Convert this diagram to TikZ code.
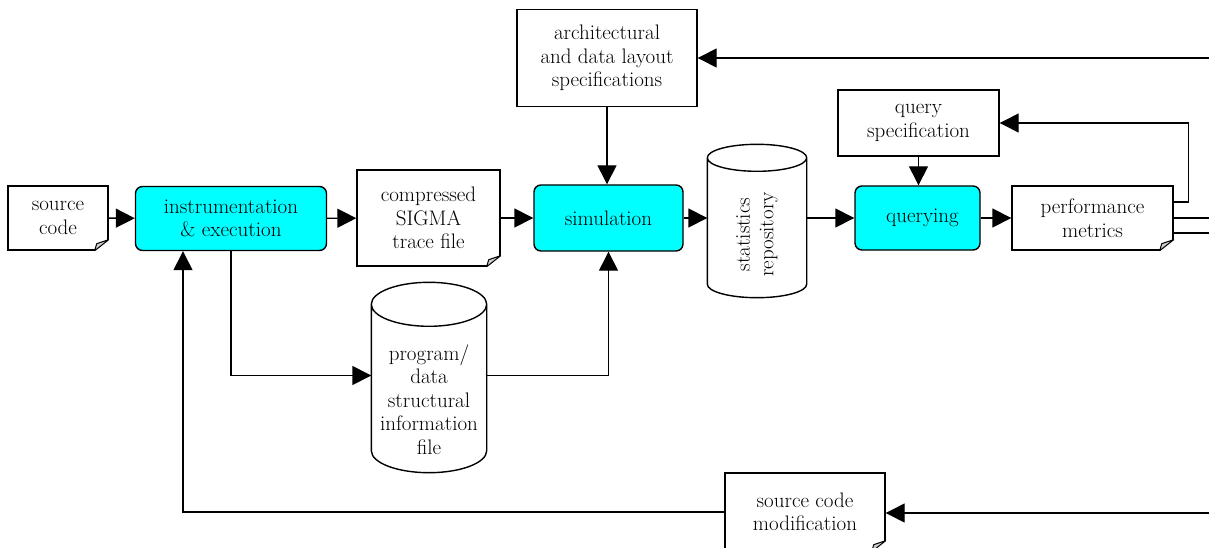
\documentclass[tikz,border=0pt]{standalone}
\usepackage{amsmath}
\usetikzlibrary{arrows.meta}
\usetikzlibrary{calc}
\usetikzlibrary{positioning}

\definecolor{aqua}{RGB}{0,255,255}

% dog-eared corner on a document node
\newcommand{\docfold}[1]{%
  \fill[white] ($(#1.south east)+(-15,1)$) -- ($(#1.south east)+(1,1)$) -- ($(#1.south east)+(1,-12)$) -- cycle;
  \filldraw[fill=gray!40,line width=1pt,line join=round] ($(#1.south east)+(-14,0)$) -- ($(#1.south east)+(0,-11)$) -- ($(#1.south east)+(-12,-7)$) -- cycle;
}
% drum outline round a body node, #2 = half height of the lid
\newcommand{\drum}[2]{%
  \draw let \p1=(#1.north west), \p2=(#1.south east) in
    (\x1,\y1+#2pt) -- (\x1,\y2+#2pt) arc[start angle=180,end angle=360,x radius={(\x2-\x1)/2},y radius=#2pt] -- (\x2,\y1+#2pt)
    ({(\x1+\x2)/2},\y1+#2pt) ellipse[x radius={(\x2-\x1)/2},y radius=#2pt];
}

\begin{document}
\begin{tikzpicture}[x=1pt,y=-1pt,line width=1.4pt,
	  every node/.style={font=\fontsize{21}{23.5}\selectfont,align=center,inner sep=1pt},
	  arr/.style={-{Triangle[length=19pt,width=19pt]}},
	  proc/.style={draw,fill=aqua,rounded corners=7pt,minimum height=64pt},
	  doc/.style={draw,fill=white},
	  spec/.style={draw,fill=white},
	  store/.style={inner sep=0pt}]
	  \useasboundingbox (0,0) rectangle (1209,548);
	  \node[doc,minimum width=100pt,minimum height=64pt] (src) at (58,218) {source\\code};
	  \node[proc,minimum width=191pt] (instr) at (231,218.5) {instrumentation\\\& execution};
	  \node[doc,minimum width=143pt,minimum height=96pt] (trace) at (428.5,218) {compressed\\SIGMA\\trace file};
	  \node[proc,minimum width=149pt,minimum height=66pt] (sim) at (608.5,218) {simulation};
	  \node[store,minimum width=98pt,minimum height=125pt] (stats) at (757,234.5)
	    {\rotatebox{90}{\begin{tabular}{@{}c@{}}statistics\\repository\end{tabular}}};
	  \node[proc,minimum width=125pt] (query) at (917.5,218) {\hspace{10pt}querying};
	  \node[doc,minimum width=161pt,minimum height=64pt] (perf) at (1092.5,218) {performance\\metrics};
	  \node[spec,minimum width=161pt,minimum height=66pt] (qspec) at (918.5,123) {query\\specification};
	  \node[spec,minimum width=180pt,minimum height=97pt] (arch) at (607,58) {architectural\\and data layout\\specifications};
	  \node[store,minimum width=114pt,minimum height=145pt] (prog) at (429,399.5) {program/\\data\\structural\\information\\file};
	  \node[doc,minimum width=160pt,minimum height=78pt] (mod) at (805,512) {source code\\modification};
	  \coordinate (topin) at (1209,58);
	  \coordinate (botin) at (1209,513);
	  \coordinate (rim) at (1209,218);
%
	  \docfold{src}
	  \docfold{trace}
	  \docfold{perf}
	  \docfold{mod}
	  \drum{stats}{13.5}
	  \drum{prog}{22}
%
	  \path[arr]
	    (src) edge (instr)
	    (instr) edge (trace)
	    (trace) edge (sim)
	    (sim.east) edge (sim.east -| stats.west)
	    (stats.east |- query.west) edge (query)
	    (query) edge (perf)
	    (arch.south) edge (arch.south |- sim.north)
	    (qspec.south) edge (qspec.south |- query.north)
	    (topin) edge (arch)
	    (botin) edge (botin -| mod.east);
	  \draw[arr] (instr.south) |- ([yshift=24pt]prog.west);
	  \draw[arr] ([yshift=24pt]prog.east) -| (sim.south);
	  \draw[arr] ([yshift=16pt]perf.east) -- ++(15,0) |- (qspec.east);
	  \draw[arr] (mod.west) -| ([xshift=-48pt]instr.south);
	  \draw (perf.east) -- (perf.east -| rim);
	  \draw ([yshift=-15pt]perf.east) -- ([yshift=-15pt]perf.east -| rim);
	\end{tikzpicture}
\end{document}
